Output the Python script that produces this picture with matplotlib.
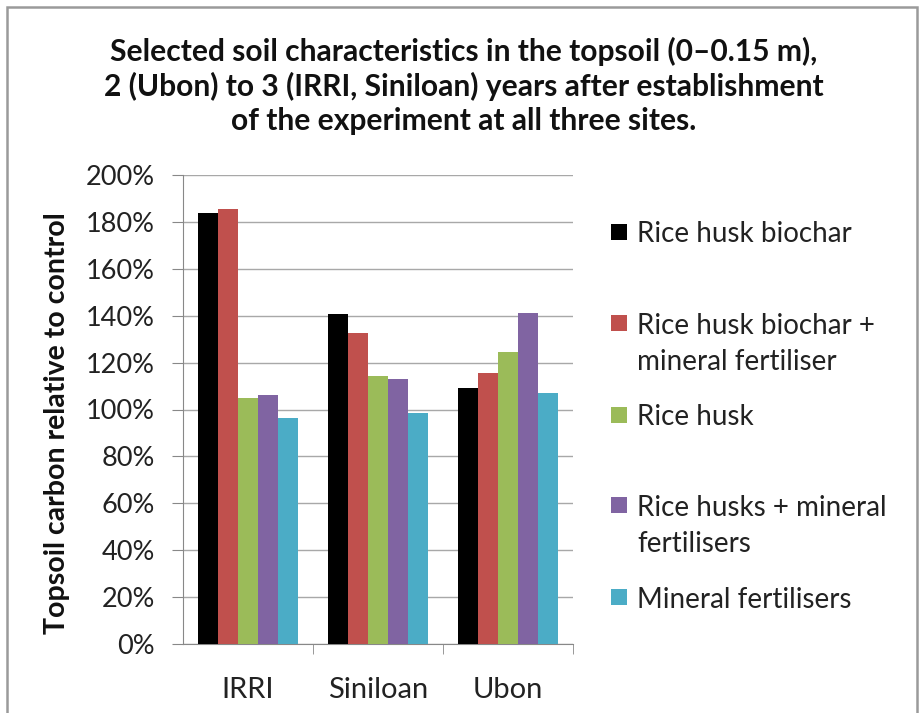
import matplotlib
matplotlib.use("Agg")
import matplotlib.pyplot as plt
import numpy as np
from matplotlib.patches import Rectangle
from matplotlib.ticker import PercentFormatter

plt.rcParams['font.family'] = ['Lato', 'DejaVu Sans']

sites = ["IRRI", "Siniloan", "Ubon"]
series = ["Rice husk biochar", "Rice husk biochar + mineral fertiliser", "Rice husk",
          "Rice husks + mineral fertilisers", "Mineral fertilisers"]
legend_lines = [["Rice husk biochar"], ["Rice husk biochar +", "mineral fertiliser"], ["Rice husk"],
                ["Rice husks + mineral", "fertilisers"], ["Mineral fertilisers"]]
values = {
    "Rice husk biochar": [183.7, 140.9, 109.3],
    "Rice husk biochar + mineral fertiliser": [185.5, 132.8, 115.4],
    "Rice husk": [105.0, 114.4, 124.4],
    "Rice husks + mineral fertilisers": [106.0, 113.0, 141.3],
    "Mineral fertilisers": [96.2, 98.6, 107.2],
}
colors = ["#000000", "#C0504D", "#9BBB59", "#8064A2", "#4BACC6"]
yticks = [0, 20, 40, 60, 80, 100, 120, 140, 160, 180, 200]
title = ("Selected soil characteristics in the topsoil (0\u20130.15 m),\n"
         "2 (Ubon) to 3 (IRRI, Siniloan) years after establishment\n"
         "of the experiment at all three sites.")
ylabel = "Topsoil carbon relative to control"

W, H = 920, 713
fig = plt.figure(figsize=(W/100, H/100), dpi=100)
fig.patches.append(Rectangle((7/W, -0.02), 910/W, 1.02 - 7/H, transform=fig.transFigure,
                             fill=False, edgecolor="#9a9a9a", linewidth=1.8))
ax = fig.add_axes([183/W, 1-644/H, 390/W, 469/H])

x = np.arange(len(sites))
bw = 0.154
for i, (s, c) in enumerate(zip(series, colors)):
    ax.bar(x + (i - 2) * bw, values[s], width=bw, color=c, label=s, zorder=3)

ax.set_xlim(-0.5, 2.5)
ax.set_ylim(0, 200)
ax.set_yticks(yticks)
ax.yaxis.set_major_formatter(PercentFormatter(decimals=0))
ax.grid(axis="y", color="#a8a8a8", linewidth=1, zorder=0)
ax.set_xticks(x)
ax.set_xticklabels(sites)
ax.set_xticks([0.5, 1.5, 2.5], minor=True)
ax.tick_params(axis="x", which="major", length=0, pad=24, labelsize=21, colors="#222222")
ax.tick_params(axis="x", which="minor", length=7, color="#888888")
ax.tick_params(axis="y", length=8, color="#888888", labelsize=19.5, labelcolor="#222222", pad=12)
for sp in ["top", "right"]:
    ax.spines[sp].set_visible(False)
for sp in ["left", "bottom"]:
    ax.spines[sp].set_color("#888888")

fig.text(57/W, 1 - 423/H, ylabel, rotation=90, ha="center", va="center",
         fontsize=20.5, fontweight="bold", color="#111111")

fig.text(0.5 + 4/W, 1 - 86/H, title, ha="center", va="center", fontsize=21.6, fontweight="bold",
         linespacing=1.27, color="#111111")

# manual legend (Excel-style, uneven spacing)
marker_y = [232, 323, 415, 505, 597]
line_gap = 37
for lines, c, my in zip(legend_lines, colors, marker_y):
    fig.patches.append(Rectangle((611/W, 1 - (my + 8)/H), 16/W, 16/H, transform=fig.transFigure,
                                 facecolor=c, edgecolor="none"))
    for k, t in enumerate(lines):
        fig.text(637/W, 1 - (my + k*line_gap)/H, t, ha="left", va="center_baseline",
                 fontsize=20, color="#222222")

fig.savefig("out.png", dpi=100)
